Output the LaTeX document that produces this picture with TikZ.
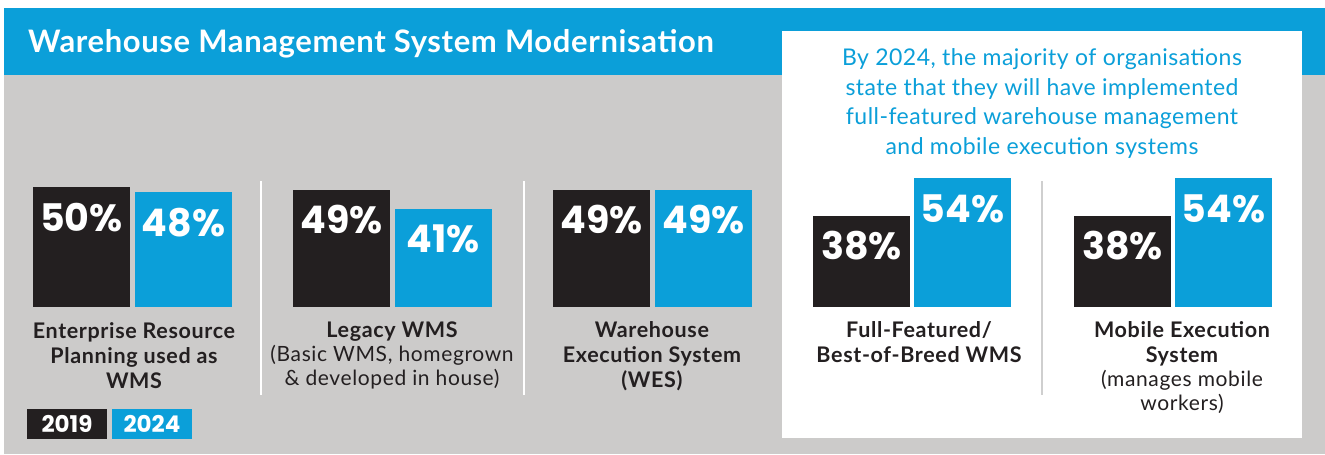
\documentclass[tikz,border=0pt]{standalone}
\usepackage{fontspec}
\setmainfont{Lato}
\newfontfamily\pctfont{Poppins}
\newfontfamily\titlefont{Lato}[LetterSpace=2]
\newfontfamily\capfont{Lato}[LetterSpace=3]
\newfontfamily\blurbfont{Lato}[LetterSpace=2]
\definecolor{hblue}{HTML}{0B9FD9}
\definecolor{ink}{HTML}{231F20}
\definecolor{panelgray}{HTML}{CCCBCA}
\definecolor{divgray}{HTML}{CFCFCF}
\tikzset{
  bar/.style={minimum width=97pt, inner sep=0pt, outer sep=0pt, anchor=south west},
  bar19/.style={bar, fill=ink},
  bar24/.style={bar, fill=hblue},
  pct/.style={anchor=base, inner sep=0pt, text=white, font=\pctfont\bfseries\fontsize{38}{40}\selectfont},
  caption/.style={anchor=base, inner sep=0pt, align=center, text=ink, font=\capfont\bfseries\fontsize{21.5}{25}\selectfont},
  subcap/.style={anchor=base, inner sep=0pt, align=center, text=ink, font=\capfont\fontsize{21}{24}\selectfont},
  legbox/.style={minimum width=80pt, minimum height=30pt, inner sep=0pt, text=white, font=\pctfont\bfseries\fontsize{23}{25}\selectfont},
  blurb/.style={anchor=base, inner sep=0pt, align=center, text=hblue, font=\blurbfont\fontsize{23}{29.4}\selectfont},
  divider/.style={line width=2.5pt}
}
\begin{document}
\begin{tikzpicture}[x=1pt,y=-1pt]
\useasboundingbox (0,0) rectangle (1325,455);
\fill[white] (0,0) rectangle (1325,455);
\fill[panelgray] (4,75) rectangle (1325,454);
\fill[hblue] (4,8) rectangle (1325,75);
\fill[white] (782,31) rectangle (1302,438);

\node[anchor=base west, inner sep=0pt, text=white, font=\titlefont\bfseries\fontsize{31}{36}\selectfont] (title) at (28,52) {Warehouse Management System Modernisation};

\node[blurb] (blurb) at (1042,154) {By 2024, the majority of organisations\\state that they will have implemented\\full-featured warehouse management\\and mobile execution systems};

% group 1
\node[bar19, minimum height=120pt] (b1a) at (33,307) {};
\node[bar24, minimum height=115pt] (b1b) at (135,307) {};
\node[pct] (p1a) at ([yshift=-44pt]b1a.north) {50\%};
\node[pct] (p1b) at ([yshift=-44pt]b1b.north) {48\%};
\node[caption] (c1) at (134,388) {Enterprise Resource\\Planning used as\\WMS};

% group 2
\node[bar19, minimum height=117pt] (b2a) at (293,307) {};
\node[bar24, minimum height=98pt] (b2b) at (395,307) {};
\node[pct] (p2a) at ([yshift=-43pt]b2a.north) {49\%};
\node[pct] (p2b) at ([yshift=-43pt]b2b.north) {41\%};
\node[caption] (c2) at (392,337) {Legacy WMS};
\node[subcap] (s2) at (392,385) {(Basic WMS, homegrown\\\& developed in house)};

% group 3
\node[bar19, minimum height=117pt] (b3a) at (553,307) {};
\node[bar24, minimum height=117pt] (b3b) at (655,307) {};
\node[pct] (p3a) at ([yshift=-43pt]b3a.north) {49\%};
\node[pct] (p3b) at ([yshift=-43pt]b3b.north) {49\%};
\node[caption] (c3) at (652,387) {Warehouse\\Execution System\\(WES)};

% group 4
\node[bar19, minimum height=91pt] (b4a) at (813,307) {};
\node[bar24, minimum height=129pt] (b4b) at (914,307) {};
\node[pct] (p4a) at ([yshift=-43pt]b4a.north) {38\%};
\node[pct] (p4b) at ([yshift=-44pt]b4b.north) {54\%};
\node[caption] (c4) at (919,362) {Full-Featured/\\Best-of-Breed WMS};

% group 5
\node[bar19, minimum height=91pt] (b5a) at (1074,307) {};
\node[bar24, minimum height=129pt] (b5b) at (1175,307) {};
\node[pct] (p5a) at ([yshift=-43pt]b5a.north) {38\%};
\node[pct] (p5b) at ([yshift=-44pt]b5b.north) {54\%};
\node[caption] (c5) at (1182,362) {Mobile Execution\\System};
\node[subcap] (s5) at (1182,410) {(manages mobile\\workers)};

% dividers
\draw[divider, white] (261,181) -- (261,395);
\draw[divider, white] (524,181) -- (524,395);
\draw[divider, divgray] (1042,181) -- (1042,395);

% legend
\node[legbox, fill=ink] (l19) at (67,424) {2019};
\node[legbox, fill=hblue] (l24) at (152,424) {2024};
\end{tikzpicture}
\end{document}
